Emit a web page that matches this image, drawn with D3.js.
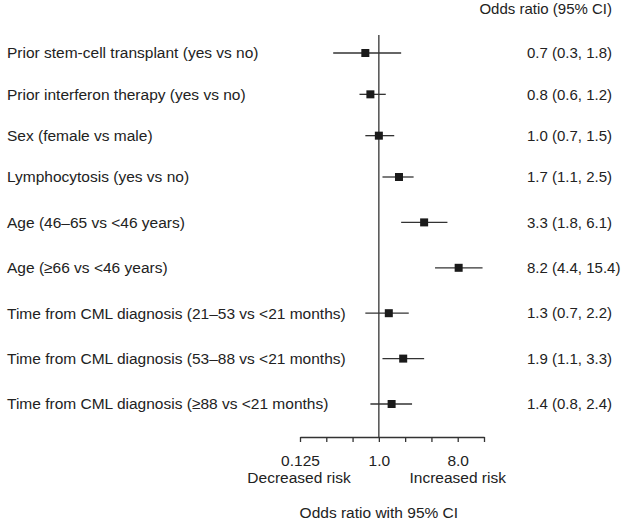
<!DOCTYPE html>
<html>
<head>
<meta charset="utf-8">
<script src="https://cdn.jsdelivr.net/npm/d3@7"></script>
<style>
  body { margin: 0; background: #fff; }
  text { font-family: "Liberation Sans", Arial, sans-serif; fill: #222; }
</style>
</head>
<body>
<div id="chart"></div>
<script>
var width = 629,
	height = 527,
	fs = 15.5;

var labels = [
	"Prior stem-cell transplant (yes vs no)",
	"Prior interferon therapy (yes vs no)",
	"Sex (female vs male)",
	"Lymphocytosis (yes vs no)",
	"Age (46\u201365 vs <46 years)",
	"Age (\u226566 vs <46 years)",
	"Time from CML diagnosis (21\u201353 vs <21 months)",
	"Time from CML diagnosis (53\u201388 vs <21 months)",
	"Time from CML diagnosis (\u226588 vs <21 months)"
];
var odds = [0.7, 0.8, 1.0, 1.7, 3.3, 8.2, 1.3, 1.9, 1.4];
var lower = [0.3, 0.6, 0.7, 1.1, 1.8, 4.4, 0.7, 1.1, 0.8];
var upper = [1.8, 1.2, 1.5, 2.5, 6.1, 15.4, 2.2, 3.3, 2.4];
var ciText = [
	"0.7 (0.3, 1.8)", "0.8 (0.6, 1.2)", "1.0 (0.7, 1.5)", "1.7 (1.1, 2.5)",
	"3.3 (1.8, 6.1)", "8.2 (4.4, 15.4)", "1.3 (0.7, 2.2)", "1.9 (1.1, 3.3)",
	"1.4 (0.8, 2.4)"
];
var tickValues = [0.125, 0.25, 0.5, 1, 2, 4, 8, 16];
var tickLabels = {"0.125": "0.125", "1": "1.0", "8": "8.0"};

var data = labels.map(function(l, i){
	return {i: i, label: l, or: odds[i], lo: lower[i], hi: upper[i], txt: ciText[i]};
});

var x = d3.scaleLog().base(2).domain([0.125, 16]).range([300, 484]);
// first rows sit a little closer together in the original layout
var y = d3.scaleLinear().domain([0, 3, labels.length - 1]).range([53, 177, 404]);
var axisY = 437;

var svg = d3.select("#chart").append("svg")
	.attr("width", width)
	.attr("height", height);

// reference line at OR = 1
svg.append("line")
	.attr("x1", x(1)).attr("x2", x(1))
	.attr("y1", 35).attr("y2", axisY)
	.attr("stroke", "#333").attr("stroke-width", 1.3);

// x axis
var axis = d3.axisBottom(x)
	.tickValues(tickValues)
	.tickSize(5)
	.tickSizeOuter(0)
	.tickFormat(function(d){ return tickLabels[String(d)] || ""; });

var gAxis = svg.append("g")
	.attr("transform", "translate(0," + axisY + ")")
	.call(axis);
gAxis.select(".domain").attr("stroke", "#333").attr("stroke-width", 1.3);
gAxis.selectAll(".tick line").attr("stroke", "#333").attr("stroke-width", 1.3);
gAxis.selectAll(".tick text")
	.attr("font-family", "Liberation Sans, Arial, sans-serif")
	.attr("font-size", fs)
	.attr("fill", "#222")
	.attr("y", 29)
	.attr("dy", null);

svg.append("text").attr("x", x(0.125) - 1).attr("y", 483)
	.attr("text-anchor", "middle").attr("font-size", fs).text("Decreased risk");
svg.append("text").attr("x", x(8)).attr("y", 483)
	.attr("text-anchor", "middle").attr("font-size", fs).text("Increased risk");
svg.append("text").attr("x", x(1)).attr("y", 518)
	.attr("text-anchor", "middle").attr("font-size", fs).text("Odds ratio with 95% CI");

svg.append("text").attr("x", 612).attr("y", 14)
	.attr("text-anchor", "end").attr("font-size", 15).text("Odds ratio (95% CI)");

var rows = svg.selectAll("g.row")
	.data(data)
	.enter()
	.append("g")
	.attr("class", "row")
	.attr("transform", function(d){ return "translate(0," + y(d.i) + ")"; });

rows.append("text")
	.attr("x", 7).attr("dy", "0.35em")
	.attr("font-size", fs)
	.text(function(d){ return d.label; });

rows.append("text")
	.attr("x", 527).attr("dy", "0.35em")
	.attr("font-size", 15)
	.text(function(d){ return d.txt; });

rows.append("line")
	.attr("x1", function(d){ return x(d.lo); })
	.attr("x2", function(d){ return x(d.hi); })
	.attr("stroke", "#333").attr("stroke-width", 1.3);

rows.append("rect")
	.attr("x", function(d){ return x(d.or) - 4; })
	.attr("y", -4)
	.attr("width", 8).attr("height", 8)
	.attr("fill", "#1a1a1a");
</script>
</body>
</html>
